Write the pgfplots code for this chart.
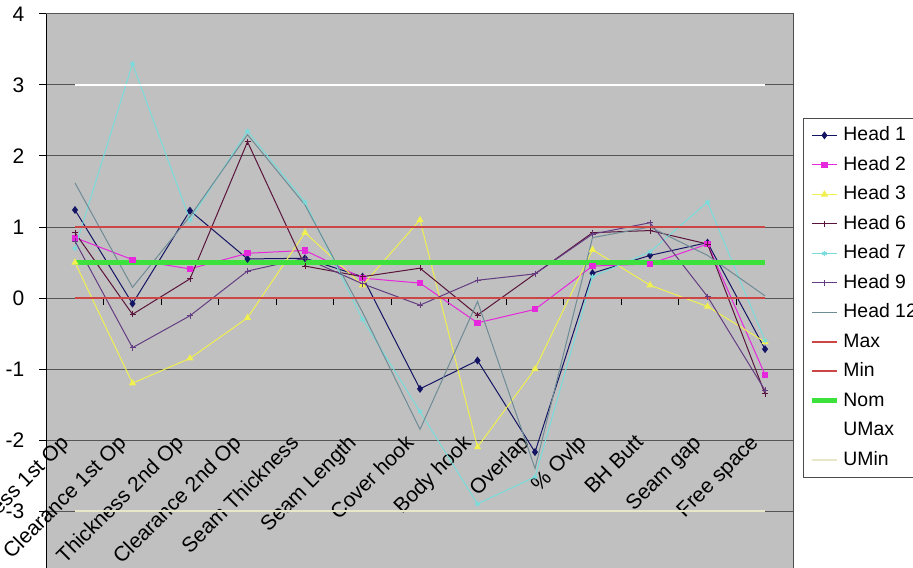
\documentclass[border=0pt]{standalone}
\usepackage{pgfplots}
\pgfplotsset{compat=1.18}
\usepackage{pgfplotstable}
\usepackage{fontspec}
\setmainfont{Liberation Sans}

\definecolor{plotbg}{RGB}{192,192,192}
\definecolor{gridc}{RGB}{85,85,85}
\definecolor{hone}{RGB}{20,20,100}
\definecolor{htwo}{RGB}{230,40,220}
\definecolor{hthree}{RGB}{240,240,80}
\definecolor{hsix}{RGB}{90,20,60}
\definecolor{hseven}{RGB}{120,220,220}
\definecolor{hnine}{RGB}{100,60,130}
\definecolor{htwelve}{RGB}{110,140,150}
\definecolor{maxc}{RGB}{205,70,70}
\definecolor{nomc}{RGB}{60,225,60}
\definecolor{uminc}{RGB}{232,232,200}

% columns: category index, seven heads, then the limit lines
\pgfplotstableread{
x  h1    h2    h3    h6    h7    h9    h12   mx mn nom  umax umin
1  1.24  0.85  0.50  0.92  0.70  0.80  1.62  1  0  0.5  3    -3
2  -0.08 0.54  -1.20 -0.23 3.30  -0.70 0.15  1  0  0.5  3    -3
3  1.23  0.41  -0.85 0.27  1.10  -0.25 1.15  1  0  0.5  3    -3
4  0.55  0.63  -0.28 2.20  2.35  0.38  2.30  1  0  0.5  3    -3
5  0.56  0.67  0.92  0.45  1.35  0.56  1.31  1  0  0.5  3    -3
6  0.30  0.28  0.18  0.30  -0.30 0.20  -0.20 1  0  0.5  3    -3
7  -1.28 0.21  1.10  0.42  -1.60 -0.10 -1.85 1  0  0.5  3    -3
8  -0.88 -0.35 -2.10 -0.24 -2.90 0.25  -0.05 1  0  0.5  3    -3
9  -2.17 -0.16 -1.00 0.34  -2.52 0.34  -2.40 1  0  0.5  3    -3
10 0.35  0.45  0.68  0.92  0.30  0.90  0.85  1  0  0.5  3    -3
11 0.60  0.48  0.18  0.95  0.65  1.06  1.00  1  0  0.5  3    -3
12 0.78  0.76  -0.12 0.76  1.35  0.02  0.60  1  0  0.5  3    -3
13 -0.72 -1.08 -0.62 -1.35 -0.60 -1.30 0.03  1  0  0.5  3    -3
}\heads

\begin{document}
\begin{tikzpicture}
\useasboundingbox (0,0) rectangle (456.5pt,-283.5pt);
\begin{axis}[
  at={(23.125pt,-7pt)}, anchor=north west,
  scale only axis, width=373.75pt, height=284pt,
  xmin=0.5, xmax=13.5, ymin=-4, ymax=4,
  axis x line*=middle, axis y line*=left,
  axis background/.style={fill=plotbg},
  x axis line style={draw=gridc, line width=0.5pt},
  y axis line style={draw=black, line width=0.5pt},
  ytick={-4,...,4},
  ymajorgrids, major grid style={draw=gridc, line width=0.5pt},
  tick align=outside,
  major tick length=3.5pt, minor tick length=3.5pt,
  major y tick style={draw=black, line width=0.5pt},
  major x tick style={draw=none},
  minor x tick style={draw=black, line width=0.5pt},
  xtick={1,...,13},
  minor xtick={0.5,1.5,...,13.5},
  xticklabels={Thickness 1st Op, Clearance 1st Op, Thickness 2nd Op,
    Clearance 2nd Op, Seam Thickness, Seam Length, Cover hook, Body hook,
    Overlap, \% Ovlp, BH Butt, Seam gap, Free space},
  xticklabel style={font=\fontsize{10.5}{12}\selectfont, xshift=-8pt,
    yshift=-64pt, rotate=45, anchor=north east, inner sep=0pt},
  yticklabel style={font=\fontsize{10.5}{12}\selectfont, xshift=-4pt},
  /pgf/number format/assume math mode=true,
  clip=true,
  legend style={at={(1.0124,0.8169)}, anchor=north west,
    draw=gray!60!black, fill=white, line width=0.4pt,
    font=\fontsize{9.7}{11}\selectfont, row sep=1.75pt,
    nodes={text height=7.2pt, text depth=1.8pt, inner ysep=2pt}},
  legend cell align=left,
  legend image code/.code={\draw[mark repeat=2,mark phase=2]
    plot coordinates {(0cm,0cm) (0.22cm,0cm) (0.44cm,0cm)};},
  every axis plot/.append style={line width=0.5pt},
  after end axis/.code={
    \draw[gray!60!black, line width=0.4pt] (rel axis cs:1,0) -- (rel axis cs:1,1);
  },
]
\addplot[hone, mark=diamond*, mark size=1.6pt] table[x=x, y=h1] {\heads};
\addlegendentry{Head 1}
\addplot[htwo, mark=square*, mark size=1.3pt] table[x=x, y=h2] {\heads};
\addlegendentry{Head 2}
\addplot[hthree, mark=triangle*, mark size=1.6pt] table[x=x, y=h3] {\heads};
\addlegendentry{Head 3}
\addplot[hsix, mark=+, mark size=1.5pt] table[x=x, y=h6] {\heads};
\addlegendentry{Head 6}
\addplot[hseven, mark=asterisk, mark size=1.3pt] table[x=x, y=h7] {\heads};
\addlegendentry{Head 7}
\addplot[hnine, mark=+, mark size=1.5pt] table[x=x, y=h9] {\heads};
\addlegendentry{Head 9}
\addplot[htwelve, no marks] table[x=x, y=h12] {\heads};
\addlegendentry{Head 12}
\addplot[maxc, line width=1pt, no marks] table[x=x, y=mx] {\heads};
\addlegendentry{Max}
\addplot[maxc, line width=1pt, no marks] table[x=x, y=mn] {\heads};
\addlegendentry{Min}
\addplot[nomc, line width=2.5pt, no marks] table[x=x, y=nom] {\heads};
\addlegendentry{Nom}
\addplot[white, line width=1pt, no marks] table[x=x, y=umax] {\heads};
\addlegendentry{UMax}
\addplot[uminc, line width=1pt, no marks] table[x=x, y=umin] {\heads};
\addlegendentry{UMin}
\end{axis}
\end{tikzpicture}
\end{document}
